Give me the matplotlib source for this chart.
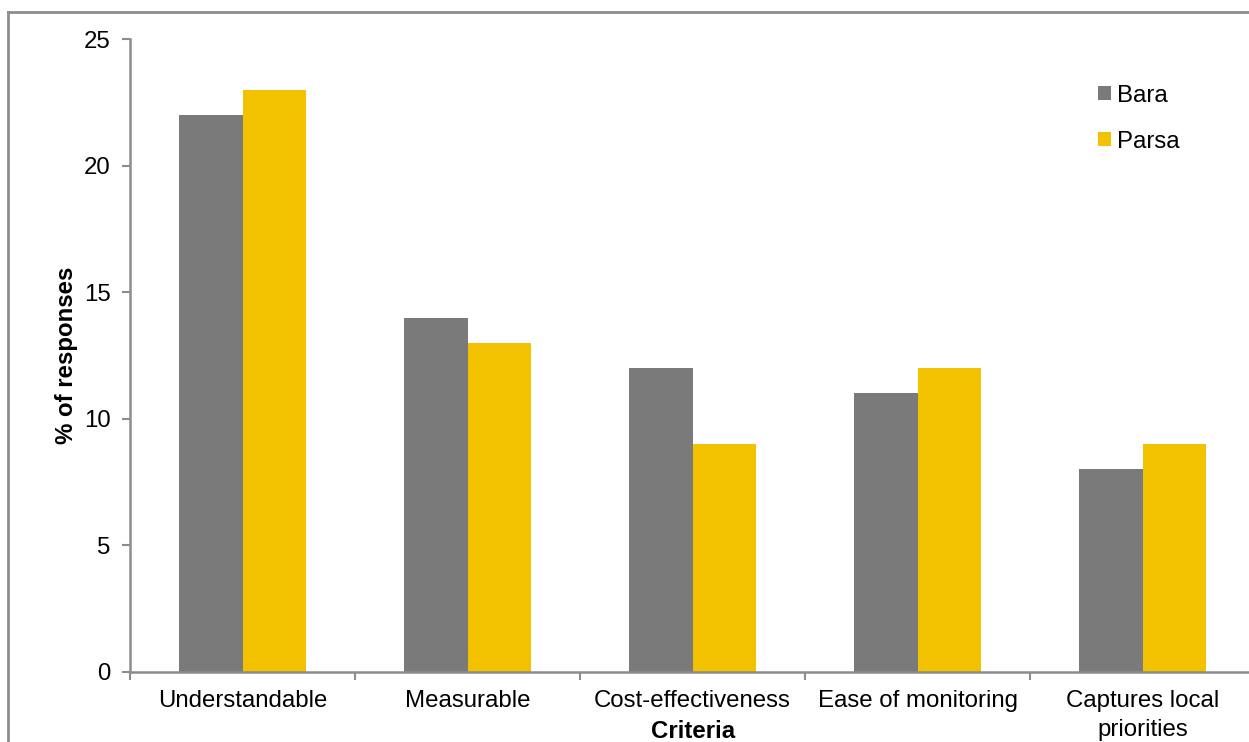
import matplotlib
matplotlib.use("Agg")
import matplotlib.pyplot as plt
import numpy as np
from matplotlib.lines import Line2D

categories = ["Understandable", "Measurable", "Cost-effectiveness", "Ease of monitoring", "Captures local\npriorities"]
bara = [22, 14, 12, 11, 8]
parsa = [23, 13, 9, 12, 9]
series_names = ["Bara", "Parsa"]
yticks = [0, 5, 10, 15, 20, 25]

plt.rcParams['font.family'] = ['Liberation Sans', 'DejaVu Sans']

W, H = 1249, 742
fig = plt.figure(figsize=(W/100, H/100), dpi=100)
left_px, right_px = 130, 1255
ax = fig.add_axes([left_px/W, (H-672)/H, (right_px-left_px)/W, (672-39)/H])

x = np.arange(len(categories))
bw = 0.284
c_gray = "#7a7a7a"
c_yel = "#f2c200"
ax.bar(x - bw/2, bara, bw, color=c_gray, label=series_names[0])
ax.bar(x + bw/2, parsa, bw, color=c_yel, label=series_names[1])

fs = 17.3
ax.set_xlim(-0.5, len(categories) - 0.5)
ax.set_ylim(0, 25)
ax.set_yticks(yticks)
ax.set_xticks(x)
ax.set_xticklabels(categories, fontsize=fs, linespacing=1.4)
ax.set_xticks(np.arange(-0.5, len(categories) + 0.5, 1), minor=True)
ax.tick_params(axis='x', which='major', length=0, pad=13)
ax.tick_params(axis='x', which='minor', length=6, width=1.5, color="#8c8c8c", direction='out')
ax.tick_params(axis='y', length=6, width=1.5, color="#8c8c8c", labelsize=fs, pad=8)

spc = "#8c8c8c"
for s in ['top', 'right']:
    ax.spines[s].set_visible(False)
for s in ['left', 'bottom']:
    ax.spines[s].set_color(spc)
    ax.spines[s].set_linewidth(1.8)

ax.set_ylabel("% of responses", fontsize=fs, fontweight='bold', labelpad=4)
fig.text(693/W, 1 - 732/H, "Criteria", fontsize=fs, fontweight='bold', ha='center', va='center')

leg = ax.legend(loc='upper left', bbox_to_anchor=(1076/W, 1 - 63/H), bbox_transform=fig.transFigure,
                frameon=False, fontsize=fs, handlelength=0.55, handleheight=0.55, handletextpad=0.25,
                labelspacing=1.0)

# figure border (left and top)
fig.add_artist(Line2D([7.5/W, 7.5/W], [0, 1 - 12/H], transform=fig.transFigure, color=spc, lw=2.0))
fig.add_artist(Line2D([7.5/W, 1], [1 - 12/H, 1 - 12/H], transform=fig.transFigure, color=spc, lw=2.0))

fig.savefig("out.png", dpi=100)
